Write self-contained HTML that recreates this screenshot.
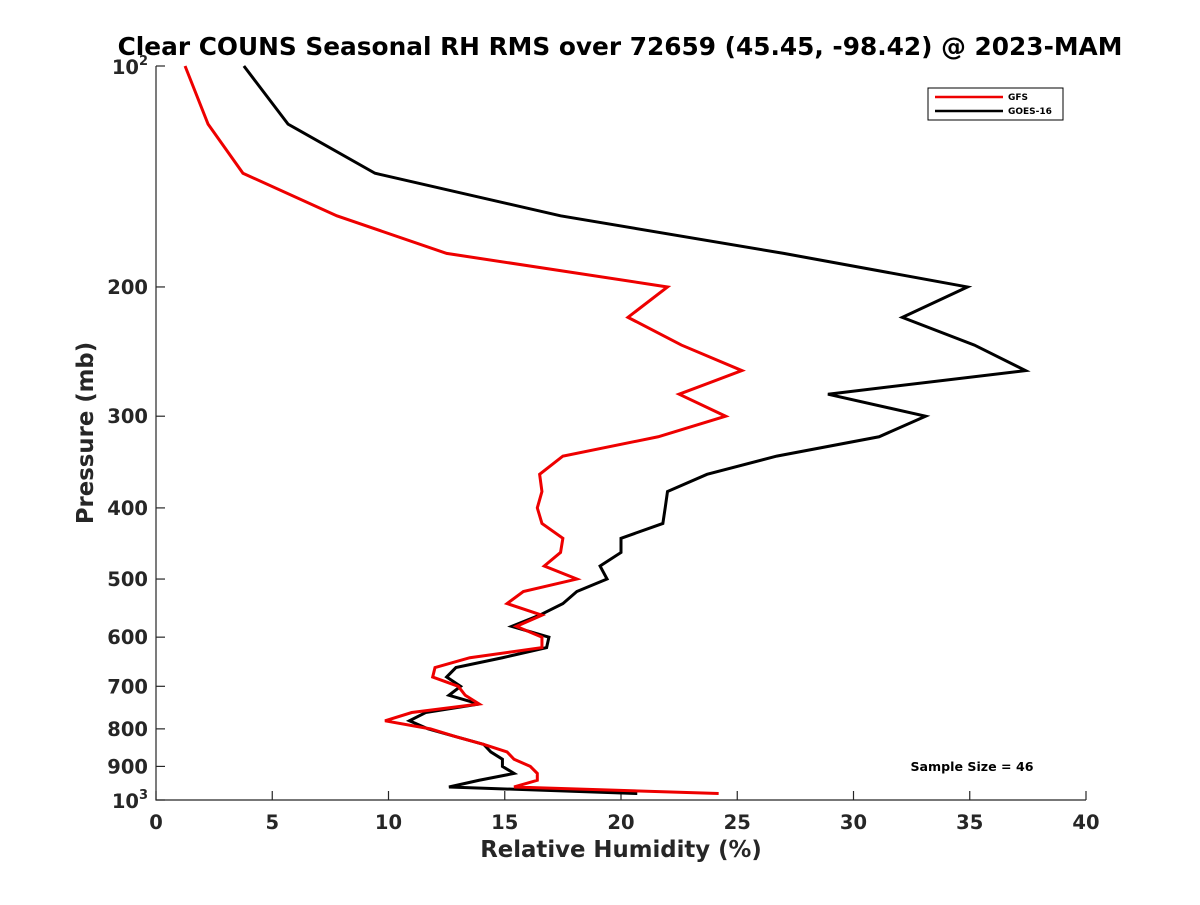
<!DOCTYPE html>
<html><head><meta charset="utf-8"><style>
body{margin:0;background:#fff;}
svg{font-family:"DejaVu Sans","Liberation Sans",sans-serif;}
</style></head><body>
<svg id="chart" width="1200" height="900">
<rect width="1200" height="900" fill="#fff"/>
<text x="620" y="55" text-anchor="middle" font-size="24.8" font-weight="bold" fill="#000">Clear COUNS Seasonal RH RMS over 72659 (45.45, -98.42) @ 2023-MAM</text>
<g id="axes"></g>
<g id="series"></g>
<g>
<rect x="928" y="88" width="135" height="32" fill="#fff" stroke="#000" stroke-width="1"/>
<line x1="935" y1="97" x2="1003" y2="97" stroke="#e00" stroke-width="2.5"/>
<text x="1008" y="100" font-size="9" font-weight="bold">GFS</text>
<line x1="935" y1="111" x2="1003" y2="111" stroke="#000" stroke-width="2.5"/>
<text x="1008" y="114" font-size="9" font-weight="bold">GOES-16</text>
</g>
<text x="972" y="771" text-anchor="middle" font-size="12.6" font-weight="bold">Sample Size = 46</text>
<text x="621" y="857" text-anchor="middle" font-size="22.8" font-weight="bold" fill="#262626">Relative Humidity (%)</text>
<text transform="translate(93,433) rotate(-90)" text-anchor="middle" font-size="22.8" font-weight="bold" fill="#262626">Pressure (mb)</text>
</svg>
<script>
const pressures = [100,120,140,160,180,200,220,240,260,280,300,320,340,360,380,400,420,440,460,480,500,520,540,560,580,600,620,640,660,680,700,720,740,760,780,800,820,840,860,880,900,920,940,960,980];
const gfsRms = [1.25,2.24,3.74,7.78,12.5,22.0,20.3,22.6,25.2,22.5,24.5,21.6,17.5,16.5,16.6,16.4,16.6,17.5,17.4,16.7,18.1,15.8,15.1,16.6,15.5,16.6,16.6,13.5,12.0,11.9,13.0,13.3,13.9,11.0,9.85,11.8,12.9,14.1,15.1,15.4,16.1,16.4,16.4,15.4,24.2];
const goesRms = [3.78,5.68,9.42,17.4,27.0,34.9,32.1,35.2,37.4,28.9,33.1,31.1,26.7,23.7,22.0,21.9,21.8,20.0,20.0,19.1,19.4,18.1,17.5,16.5,15.3,16.9,16.8,14.9,12.9,12.5,13.1,12.6,13.9,11.6,10.9,11.7,12.9,14.1,14.4,14.9,14.9,15.4,13.9,12.6,20.7];
const xTicks = [0,5,10,15,20,25,30,35,40];
const yTicks = [200,300,400,500,600,700,800,900];

const L=156,R=1086,T=66,B=800;
const xs=v=>L+(v-0)/(40-0)*(R-L);
const ys=p=>T+Math.log10(p/100)*(B-T);
const NS='http://www.w3.org/2000/svg';
function mk(tag,parent){const e=document.createElementNS(NS,tag);parent.appendChild(e);return e;}
const axes=document.getElementById('axes');
const ser=document.getElementById('series');
let a=mk('path',axes);
a.setAttribute('d',`M${L},${T}V${B}H${R}`);
a.setAttribute('fill','none');a.setAttribute('stroke','#262626');a.setAttribute('stroke-width','1.2');


xTicks.forEach(v=>{
  const x=xs(v);
  const t=mk('line',axes);
  t.setAttribute('x1',x);t.setAttribute('x2',x);t.setAttribute('y1',B);t.setAttribute('y2',B-9);
  t.setAttribute('stroke','#262626');t.setAttribute('stroke-width','1.2');
  
  
  const l=mk('text',axes);
  l.setAttribute('x',x);l.setAttribute('y',B+29);l.setAttribute('text-anchor','middle');
  l.setAttribute('font-size','19.5');l.setAttribute('font-weight','bold');l.setAttribute('fill','#262626');
  l.textContent=v;
  
  
});
function ytick(p){
  const y=ys(p);
  const t=mk('line',axes);
  t.setAttribute('x1',L);t.setAttribute('x2',L+9);t.setAttribute('y1',y);t.setAttribute('y2',y);
  t.setAttribute('stroke','#262626');t.setAttribute('stroke-width','1.2');
  
  
}
yTicks.forEach(p=>{
  ytick(p);
  const l=mk('text',axes);
  l.setAttribute('x',L-8);l.setAttribute('y',ys(p)+7);l.setAttribute('text-anchor','end');
  l.setAttribute('font-size','19.5');l.setAttribute('font-weight','bold');l.setAttribute('fill','#262626');
  l.textContent=p;
  
  
});
[[100,'2'],[1000,'3']].forEach(([p,e])=>{
  ytick(p);
  const l=mk('text',axes);
  l.setAttribute('x',L-8);l.setAttribute('y',ys(p)+8);l.setAttribute('text-anchor','end');
  l.setAttribute('font-size','19.5');l.setAttribute('font-weight','bold');l.setAttribute('fill','#262626');
  l.innerHTML='10<tspan dy="-9" font-size="13">'+e+'</tspan>';
  
  
});
function line(vals,color,name){
  const p=mk('polyline',ser);
  p.setAttribute('points',vals.map((v,i)=>xs(v)+','+ys(pressures[i])).join(' '));
  p.setAttribute('fill','none');p.setAttribute('stroke',color);p.setAttribute('stroke-width','3');
  p.setAttribute('stroke-linejoin','miter');
  
  
}
line(goesRms,'#000','goes16-line');
line(gfsRms,'#e00','gfs-line');
</script>
</body></html>
